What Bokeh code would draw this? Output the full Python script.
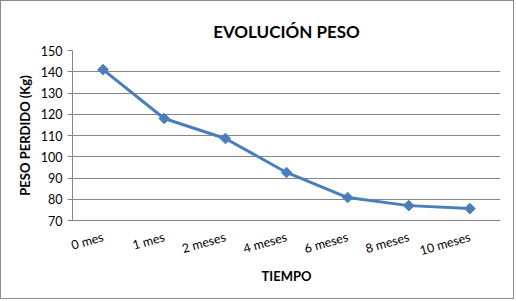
import math
from bokeh.plotting import figure
from bokeh.models import Range1d, SingleIntervalTicker
from bokeh.embed import file_html
from bokeh.resources import INLINE

categorias = ["0 mes", "1 mes", "2 meses", "4 meses", "6 meses", "8 meses", "10 meses"]
peso = [141, 118, 108.6, 92.6, 80.8, 77, 75.6]

FONT = "Lato"

p = figure(x_range=categorias, y_range=Range1d(70, 150), width=514, height=299,
           output_backend="svg", toolbar_location=None,
           min_border_left=71, min_border_right=15, min_border_top=49, min_border_bottom=80)
p.styles = {"border": "1px solid #8c8c8c"}

p.title.text = "EVOLUCIÓN PESO"
p.title.align = "center"
p.title.text_font = FONT
p.title.text_font_size = "17px"
p.title.text_font_style = "bold"
p.title.text_color = "#000000"
p.title.offset = 0
p.title.standoff = 18

p.line(categorias, peso, line_color="#4A7EBB", line_width=3)
p.scatter(categorias, peso, marker="square", angle=math.pi / 4, size=7.5,
          fill_color="#4A7EBB", line_color="#4A7EBB")

p.outline_line_color = None
p.xgrid.grid_line_color = None
p.ygrid.grid_line_color = "#868686"
p.ygrid.grid_line_width = 1
p.yaxis.ticker = SingleIntervalTicker(interval=10)
p.yaxis.minor_tick_line_color = None
p.yaxis.major_tick_in = 0
p.yaxis.major_tick_out = 5
p.yaxis.axis_line_color = "#868686"
p.yaxis.major_tick_line_color = "#868686"
p.yaxis.major_label_text_font = FONT
p.yaxis.major_label_text_font_size = "12.5px"
p.yaxis.major_label_text_color = "#000000"
p.yaxis.axis_label = "PESO PERDIDO (Kg)"
p.yaxis.axis_label_text_font = FONT
p.yaxis.axis_label_text_font_size = "13px"
p.yaxis.axis_label_text_font_style = "bold"
p.yaxis.axis_label_text_color = "#000000"

p.xaxis.major_tick_line_color = None
p.xaxis.minor_tick_line_color = None
p.xaxis.axis_line_color = "#868686"
p.xaxis.major_label_orientation = 0.28
p.xaxis.major_label_standoff = 10
p.xaxis.major_label_text_font = FONT
p.xaxis.major_label_text_font_size = "12.5px"
p.xaxis.major_label_text_color = "#000000"
p.xaxis.axis_label = "TIEMPO"
p.xaxis.axis_label_standoff = 0
p.xaxis.axis_label_text_font = FONT
p.xaxis.axis_label_text_font_size = "13px"
p.xaxis.axis_label_text_font_style = "bold"
p.xaxis.axis_label_text_color = "#000000"

open("out.html", "w").write(file_html(p, INLINE))
